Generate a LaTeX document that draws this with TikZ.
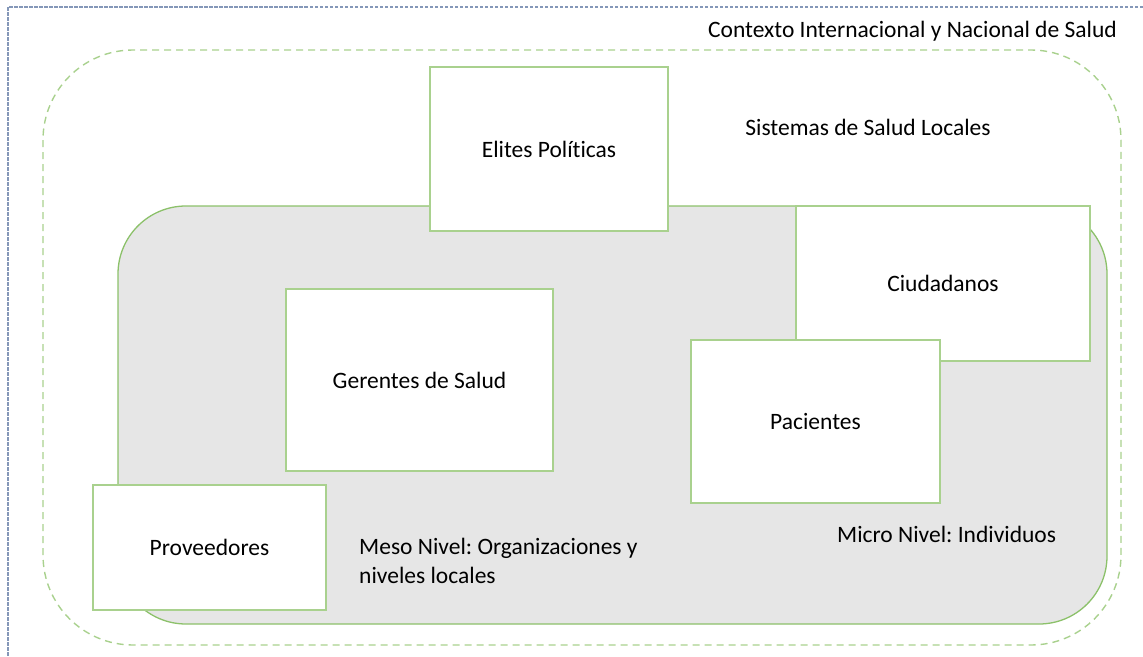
\documentclass[tikz,border=0pt]{standalone}
\usepackage{fontspec}
\setmainfont[Ligatures={NoCommon}]{Carlito}
\frenchspacing
\definecolor{boxgreen}{HTML}{A9D18E}
\definecolor{regiongreen}{HTML}{8CC16A}
\definecolor{regiongray}{HTML}{E6E6E6}
\definecolor{framegray}{HTML}{8497B8}
\begin{document}
\begin{tikzpicture}[x=1pt,y=-1pt,
  txt/.style={font=\fontsize{23.5}{29}\selectfont, text=black},
  box/.style={draw=boxgreen, line width=1.6pt, fill=white, txt, inner sep=0pt},
  lbl/.style={txt, inner sep=0pt}]
\useasboundingbox (0,0) rectangle (1143,656);
\begin{scope}
\clip (0,0) rectangle (1143,656);
\draw[framegray, line width=1.7pt, dash pattern=on 3.5pt off 1.5pt] (8,7) rectangle (1170,690);
\end{scope}
\draw[boxgreen, line width=1.4pt, dash pattern=on 7pt off 5pt, rounded corners=90pt] (43,50) rectangle (1121,645);
\draw[regiongreen, line width=1.3pt, fill=regiongray, rounded corners=68pt] (118,206) rectangle (1107,624);
\node (elites) [box, minimum width=238pt, minimum height=164pt] at (549,149) {Elites Políticas};
\node (ciud) [box, minimum width=294pt, minimum height=155pt] at (943,283.5) {Ciudadanos};
\node (ger) [box, minimum width=267pt, minimum height=182pt] at (419.5,380) {Gerentes de Salud};
\node (pac) [box, minimum width=249pt, minimum height=163pt] at (815.5,421.5) {Pacientes};
\node (prov) [box, minimum width=233pt, minimum height=125pt] at (209.5,547.5) {Proveedores};
\node (ctx) [lbl, anchor=east] at (1117,31) {Contexto Internacional y Nacional de Salud};
\node (sist) [lbl] at (868,127) {Sistemas de Salud Locales};
\node (meso) [lbl, anchor=north west, align=left] at (359,538) {Meso Nivel: Organizaciones y\\niveles locales};
\node (micro) [lbl, anchor=west] at (837,534) {Micro Nivel: Individuos};
\end{tikzpicture}
\end{document}
